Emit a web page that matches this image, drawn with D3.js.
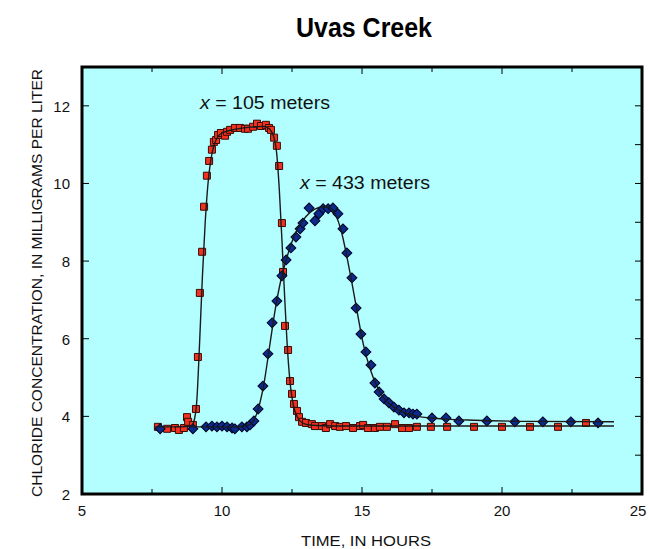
<!DOCTYPE html>
<html><head><meta charset="utf-8">
<script src="https://cdn.jsdelivr.net/npm/d3@7"></script>
<style>body{margin:0;background:#fff;}svg{display:block;font-family:"Liberation Sans",Arial,sans-serif;}</style>
</head><body><svg id="c" width="649" height="549"></svg>
<script>
// Observed data, x = 105 meters (time hours, chloride mg/L)
const redTime = [7.71,8.04,8.32,8.46,8.64,8.75,8.79,8.96,9.07,9.14,9.21,9.29,9.36,9.46,9.54,9.64,9.71,9.79,9.86,9.96,10.11,10.18,10.29,10.46,10.64,10.82,10.93,11.11,11.25,11.39,11.57,11.68,11.75,11.86,11.96,12.04,12.14,12.18,12.25,12.36,12.43,12.50,12.57,12.68,12.75,12.86,13.00,13.21,13.32,13.57,13.71,13.86,14.04,14.21,14.43,14.68,14.93,15.04,15.21,15.46,15.64,15.89,16.18,16.43,16.68,16.96,17.46,18.04,19.00,20.00,21.00,22.00,23.00];
const redConc = [3.73,3.68,3.70,3.65,3.70,3.98,3.86,3.78,4.19,5.53,7.18,8.24,9.40,10.20,10.58,10.87,11.07,11.12,11.25,11.30,11.23,11.33,11.38,11.43,11.43,11.41,11.41,11.46,11.54,11.48,11.51,11.43,11.38,11.18,10.97,10.45,8.98,7.72,6.33,5.71,4.91,4.58,4.32,4.14,3.98,3.86,3.83,3.80,3.75,3.75,3.70,3.80,3.75,3.73,3.75,3.70,3.75,3.78,3.70,3.70,3.73,3.73,3.80,3.70,3.70,3.73,3.73,3.73,3.73,3.73,3.73,3.73,3.83];
// Observed data, x = 433 meters
const blueTime = [7.79,8.96,9.43,9.64,9.82,10.00,10.18,10.36,10.46,10.71,10.89,11.00,11.14,11.29,11.46,11.64,11.79,11.96,12.14,12.29,12.46,12.64,12.79,12.89,13.11,13.32,13.46,13.61,13.79,13.96,14.14,14.32,14.46,14.64,14.79,14.96,15.14,15.32,15.46,15.61,15.79,15.96,16.14,16.32,16.50,16.68,16.82,16.96,17.50,18.00,18.46,19.46,20.46,21.46,22.46,23.43];
const blueConc = [3.68,3.68,3.73,3.75,3.73,3.75,3.73,3.70,3.68,3.73,3.73,3.78,3.88,4.19,4.78,5.61,6.41,6.97,7.62,8.03,8.34,8.62,8.83,8.98,9.37,9.04,9.22,9.35,9.35,9.37,9.22,8.83,8.21,7.57,6.79,6.12,5.66,5.32,4.86,4.63,4.45,4.35,4.24,4.16,4.09,4.09,4.06,4.06,3.96,3.96,3.88,3.88,3.86,3.86,3.86,3.83];
// Simulated curves
const redModelTime = [7.6,8.5,8.9,9.0,9.1,9.2,9.3,9.4,9.5,9.6,9.7,9.85,10.0,10.5,11.0,11.5,11.7,11.85,11.95,12.05,12.15,12.25,12.35,12.45,12.55,12.7,12.9,13.2,14.0,16.0,20.0,24.0];
const redModelConc = [3.73,3.73,3.75,3.88,4.4,5.9,7.6,9.0,10.0,10.6,10.95,11.2,11.3,11.4,11.45,11.47,11.4,11.2,10.8,9.8,8.4,6.9,5.6,4.75,4.28,3.97,3.82,3.77,3.75,3.75,3.75,3.75];
const blueModelTime = [8.9,10.5,10.9,11.1,11.3,11.5,11.7,11.9,12.1,12.3,12.5,12.75,13.0,13.3,13.6,13.85,14.05,14.25,14.45,14.65,14.85,15.05,15.3,15.55,15.8,16.1,16.5,17.0,18.0,19.0,21.0,24.0];
const blueModelConc = [3.73,3.73,3.76,3.86,4.2,4.85,5.8,6.75,7.5,8.05,8.5,8.9,9.15,9.33,9.4,9.38,9.2,8.8,8.15,7.4,6.6,5.85,5.2,4.75,4.45,4.25,4.1,4.0,3.93,3.9,3.87,3.86];
const xTicks = [5,10,15,20,25];
const yTicks = [2,4,6,8,10,12];

const svg = d3.select("#c");
const L=82, R=642, T=67, B=494;
const x = d3.scaleLinear().domain([5,25]).range([L,R]);
const y = d3.scaleLinear().domain([2,13]).range([B,T]);

svg.append("rect").attr("x",L).attr("y",T).attr("width",R-L).attr("height",B-T).attr("fill","#b3ffff");

// ticks (inward)
const g = svg.append("g").attr("stroke","#000").attr("stroke-width",1);
d3.range(7.5,25,2.5).forEach(v=>{
  const len = (v%5===0)?7:5;
  g.append("line").attr("x1",x(v)).attr("x2",x(v)).attr("y1",B).attr("y2",B-len);
  g.append("line").attr("x1",x(v)).attr("x2",x(v)).attr("y1",T).attr("y2",T+len);
});
d3.range(3,13,1).forEach(v=>{
  g.append("line").attr("x1",R).attr("x2",R-7).attr("y1",y(v)).attr("y2",y(v));
  if(v%2===0) g.append("line").attr("x1",L).attr("x2",L+7).attr("y1",y(v)).attr("y2",y(v));
});

const pts = (a,b)=>a.map((t,i)=>[t,b[i]]);
const sq = d3.symbol().type(d3.symbolSquare).size(49);
svg.append("g").selectAll("path").data(pts(redTime,redConc)).join("path")
  .attr("d",sq).attr("transform",d=>`translate(${x(d[0])},${y(d[1])})`)
  .attr("fill","#f2321e").attr("stroke","#3a0a05").attr("stroke-width",1);
svg.append("g").selectAll("path").data(pts(blueTime,blueConc)).join("path")
  .attr("d",sq).attr("transform",d=>`translate(${x(d[0])},${y(d[1])}) rotate(45)`)
  .attr("fill","#0c2a8c").attr("stroke","#000322").attr("stroke-width",1);

const line = d3.line().x(d=>x(d[0])).y(d=>y(d[1])).curve(d3.curveMonotoneX);
svg.append("path").datum(pts(redModelTime,redModelConc)).attr("d",line).attr("fill","none").attr("stroke","#1a1a1a").attr("stroke-width",1.4);
svg.append("path").datum(pts(blueModelTime,blueModelConc)).attr("d",line).attr("fill","none").attr("stroke","#1a1a1a").attr("stroke-width",1.4);

// frame
svg.append("rect").attr("x",L).attr("y",T).attr("width",R-L).attr("height",B-T).attr("fill","none").attr("stroke","#000").attr("stroke-width",3);

// tick labels
svg.append("g").selectAll("text").data(xTicks).join("text")
  .attr("x",d=>x(d)+(d===25?-4:0)).attr("y",516).attr("text-anchor","middle").attr("font-size",15).attr("fill","#111").text(d=>d);
svg.append("g").selectAll("text").data(yTicks).join("text")
  .attr("x",70).attr("y",d=>y(d)+6).attr("text-anchor","end").attr("font-size",15).attr("fill","#111").text(d=>d);

svg.append("text").attr("x",364).attr("y",37).attr("text-anchor","middle").attr("font-size",28).attr("font-weight","bold")
  .attr("textLength",136).attr("lengthAdjust","spacingAndGlyphs").text("Uvas Creek");
svg.append("text").attr("x",366).attr("y",546).attr("text-anchor","middle").attr("font-size",15.5).attr("fill","#111")
  .attr("textLength",130).attr("lengthAdjust","spacingAndGlyphs").text("TIME, IN HOURS");
svg.append("text").attr("transform","translate(42,283) rotate(-90)").attr("text-anchor","middle").attr("font-size",15).attr("fill","#111")
  .attr("textLength",428).attr("lengthAdjust","spacingAndGlyphs").text("CHLORIDE CONCENTRATION, IN MILLIGRAMS PER LITER");

function ann(px,py,label){
  const t = svg.append("text").attr("x",px).attr("y",py).attr("font-size",17.5).attr("fill","#111")
    .attr("textLength",130).attr("lengthAdjust","spacingAndGlyphs");
  t.append("tspan").attr("font-style","italic").text("x");
  t.append("tspan").text(" = "+label);
}
ann(200,109,"105 meters");
ann(300,189,"433 meters");
</script></body></html>
